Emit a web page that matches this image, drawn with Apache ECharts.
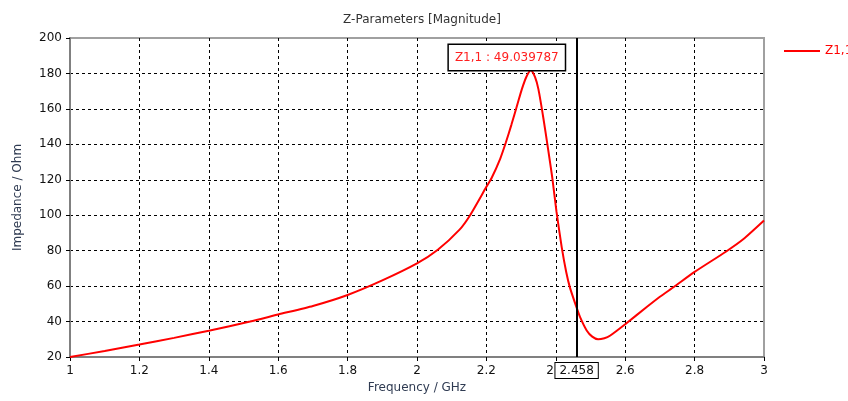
<!DOCTYPE html>
<html>
	<head>
		<meta charset="utf-8">
		<title>Z-Parameters</title>
		<script src="https://cdn.jsdelivr.net/npm/echarts@6/dist/echarts.min.js"></script>
	</head>
	<body style="margin:0">
		<div id="box" style="width: 848px;height: 401px;"></div>
		<script>
			var mCharts = echarts.init(document.querySelector('#box'))

			// frequency (GHz) and |Z1,1| (Ohm)
			var freq = [1.0, 1.1, 1.2, 1.3, 1.4, 1.519, 1.6, 1.7, 1.8, 1.9, 2.0, 2.06, 2.122, 2.153, 2.2, 2.215, 2.24, 2.256, 2.272, 2.29, 2.302, 2.315, 2.328, 2.34, 2.35, 2.364, 2.378, 2.39, 2.402, 2.417, 2.43, 2.441, 2.458, 2.47, 2.489, 2.505, 2.522, 2.54, 2.556, 2.6, 2.662, 2.7, 2.74, 2.8, 2.89, 2.94, 3.0]
			var impedance = [20, 23.4, 27, 30.8, 34.8, 40, 44, 48.8, 55, 63.2, 72.8, 80.5, 91.7, 100, 116, 121, 132, 141, 151, 163, 171, 178, 182, 178, 171, 155, 137, 121, 102, 82, 68, 59, 49, 42.5, 35, 31.5, 30, 30.6, 32, 38.5, 48.2, 54, 59.5, 68, 79.4, 86.4, 97]

			var markerFreq = 2.458
			var markerText = 'Z1,1 : 49.039787'
			var peak = [2.328, 182]

			var xTicks = [1, 3, 0.2]
			var yTicks = [20, 200, 20]

			var lineData = freq.map(function (f, i) { return [f, impedance[i]] })

			var font = 'DejaVu Sans'

			var option = {
				animation: false,
				title: {
					text: 'Z-Parameters [Magnitude]',
					left: 417,
					textAlign: 'center',
					top: 9,
					textStyle: { fontFamily: font, fontSize: 12, fontWeight: 'normal', color: '#333' }
				},
				legend: {
					left: 779,
					top: 40,
					itemWidth: 36,
					itemHeight: 2,
					itemGap: 4,
					icon: 'rect',
					textStyle: { fontFamily: font, fontSize: 12, color: '#ff0000' },
					data: ['Z1,1']
				},
				grid: {
					left: 70,
					right: 84,
					top: 38,
					bottom: 44,
					show: true,
					borderColor: '#a0a0a0',
					borderWidth: 2
				},
				xAxis: {
					type: 'value',
					min: xTicks[0],
					max: xTicks[1],
					interval: xTicks[2],
					name: 'Frequency / GHz',
					nameLocation: 'middle',
					nameGap: 22,
					nameTextStyle: { fontFamily: font, fontSize: 12, color: '#2f3b52' },
					axisLine: { lineStyle: { color: '#808080', width: 2 } },
					axisTick: { show: true, length: 4, lineStyle: { color: '#000' } },
					axisLabel: { fontFamily: font, fontSize: 12, color: '#111', margin: 8 },
					splitLine: { showMinLine: false, showMaxLine: false, lineStyle: { color: '#000', type: [3, 3], width: 1 } }
				},
				yAxis: {
					type: 'value',
					min: yTicks[0],
					max: yTicks[1],
					interval: yTicks[2],
					name: 'Impedance / Ohm',
					nameLocation: 'middle',
					nameGap: 46,
					nameTextStyle: { fontFamily: font, fontSize: 12, color: '#2f3b52' },
					axisLine: { show: true, lineStyle: { color: '#808080', width: 2 } },
					axisTick: { show: true, length: 4, lineStyle: { color: '#000' } },
					axisLabel: { fontFamily: font, fontSize: 12, color: '#111', margin: 8 },
					splitLine: { showMinLine: false, showMaxLine: false, lineStyle: { color: '#000', type: [3, 3], width: 1 } }
				},
				series: [
					{
						name: 'Z1,1',
						type: 'line',
						data: lineData,
						showSymbol: false,
						smooth: 0.2,
						color: '#ff0000',
						lineStyle: { color: '#ff0000', width: 2 },
						markLine: {
							silent: true,
							symbol: 'none',
							lineStyle: { color: '#000', type: 'solid', width: 2 },
							label: {
								show: true,
								position: 'start',
								distance: 6,
								formatter: String(markerFreq),
								fontFamily: font,
								fontSize: 12,
								color: '#111',
								backgroundColor: '#fff',
								borderColor: '#000',
								borderWidth: 1,
								padding: [2, 4, 1, 4]
							},
							data: [{ xAxis: markerFreq }]
						},
						markPoint: {
							silent: true,
							symbol: 'circle',
							symbolSize: 0,
							label: {
								show: true,
								position: 'top',
								distance: 0,
								offset: [-24, 0],
								formatter: markerText,
								fontFamily: font,
								fontSize: 12,
								color: '#ff2020',
								backgroundColor: '#fff',
								borderColor: '#000',
								borderWidth: 1.5,
								padding: [7, 6, 6, 6]
							},
							data: [{ coord: peak }]
						}
					}
				]
			}
			mCharts.setOption(option)
		</script>
	</body>
</html>
